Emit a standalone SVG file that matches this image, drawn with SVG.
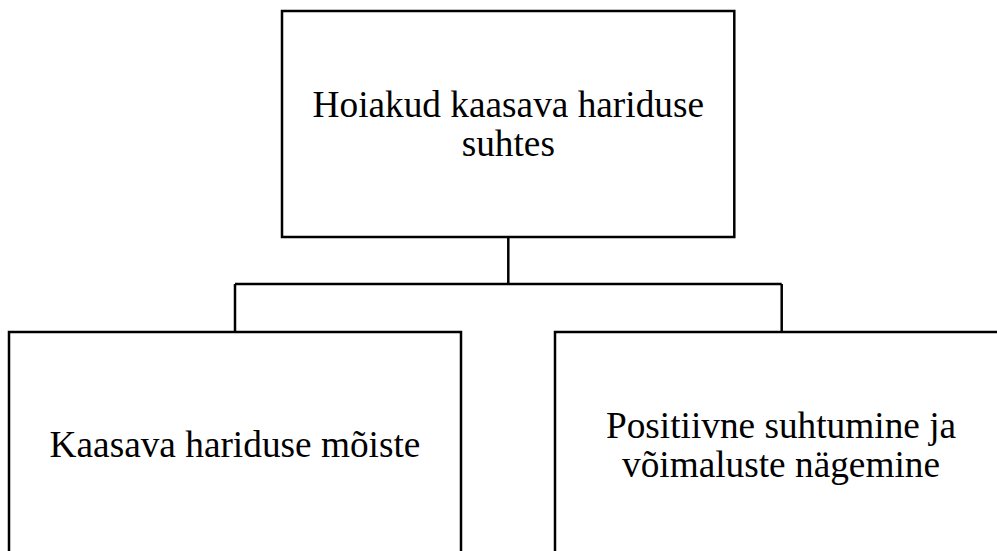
<svg xmlns="http://www.w3.org/2000/svg" width="997" height="551" viewBox="0 0 997 551">
  <style>
    .box { fill: #ffffff; stroke: #000000; stroke-width: 2.5; }
    .link { fill: none; stroke: #000000; stroke-width: 2.5; }
    .label { font-family: "Liberation Serif", "Times New Roman", serif; font-size: 37.3px; fill: #000000; text-anchor: middle; }
  </style>
  <rect x="0" y="0" width="997" height="551" fill="#ffffff"/>
  <g id="connectors">
    <path class="link" d="M508.3,237 V284 M235,284 H781.7 M235,284 V332 M781.7,284 V332"/>
  </g>
  <g id="node-root">
    <rect class="box" x="282" y="11" width="452.3" height="226"/>
    <text class="label" x="508.3" y="116.7">Hoiakud kaasava hariduse</text>
    <text class="label" x="508.3" y="155.7">suhtes</text>
  </g>
  <g id="node-left">
    <rect class="box" x="9" y="332" width="452" height="226"/>
    <text class="label" x="235" y="456.7">Kaasava hariduse mõiste</text>
  </g>
  <g id="node-right">
    <rect class="box" x="555" y="332" width="452" height="226"/>
    <text class="label" x="781" y="438.3">Positiivne suhtumine ja</text>
    <text class="label" x="781" y="476.7">võimaluste nägemine</text>
  </g>
</svg>
